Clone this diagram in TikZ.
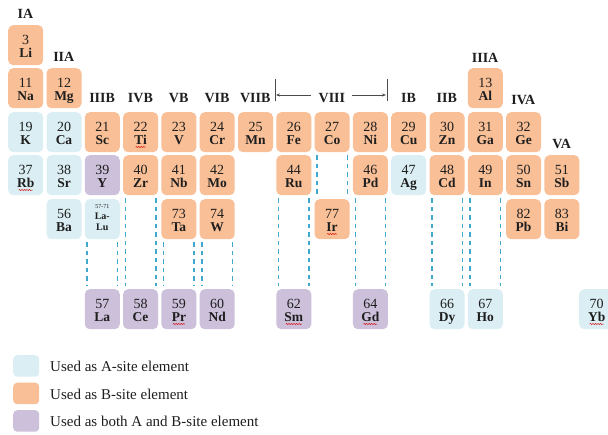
\documentclass[tikz,border=0pt]{standalone}
\usepackage{fontspec}
\setmainfont{Liberation Serif}
\usetikzlibrary{arrows.meta,decorations.pathmorphing}

\definecolor{siteA}{HTML}{DAEEF3}
\definecolor{siteB}{HTML}{F9BF96}
\definecolor{siteAB}{HTML}{CCC0DA}
\definecolor{guide}{HTML}{3FA8CC}
\definecolor{ink}{HTML}{1E1E1E}

\tikzset{
  cell/.style={anchor=north west, minimum width=35pt, minimum height=40pt,
    inner sep=0pt, rounded corners=5pt, draw=none},
  asA/.style={fill=siteA},
  asB/.style={fill=siteB},
  asAB/.style={fill=siteAB},
  numtxt/.style={anchor=base, inner sep=0pt, text=ink,
    font=\fontsize{14}{14}\selectfont},
  symtxt/.style={anchor=base, inner sep=0pt, text=ink,
    font=\fontsize{13.5}{13.5}\selectfont\bfseries},
  hdr/.style={anchor=base, inner sep=0pt, text=ink,
    font=\fontsize{14}{14}\selectfont\bfseries},
  guideline/.style={draw=guide, line width=1.4pt, dash pattern=on 4.5pt off 4pt},
  squiggle/.style={draw=red!85!black, line width=0.5pt,
    decorate, decoration={snake, amplitude=0.5pt, segment length=2.5pt}},
  bracket/.style={draw=ink!80, line width=0.6pt},
  legbox/.style={anchor=north west, minimum width=26pt, minimum height=21.5pt,
    inner sep=0pt, rounded corners=4pt, draw=none},
  legtxt/.style={anchor=base west, inner sep=0pt, text=ink,
    font=\fontsize{15}{15}\selectfont},
}

% element box: name, left x, top y, atomic number, symbol, colour style
\newcommand\elem[6]{%
  \node[cell,#6] (#1) at (#2,#3) {};
  \node[numtxt] at ([yshift=-19.5pt]#1.north) {#4};
  \node[symtxt] at ([yshift=-32pt]#1.north) {#5};
}
% spell-check underline below a symbol
\newcommand\squig[2]{%
  \draw[squiggle] ([xshift=-#2pt,yshift=-35pt]#1.north) -- ([xshift=#2pt,yshift=-35pt]#1.north);
}
% dashed guide pair between two boxes of the same column
\newcommand\guides[2]{%
  \draw[guideline] ([xshift=2.5pt,yshift=-3pt]#1.south west) -- ([xshift=2.5pt,yshift=3pt]#2.north west);
  \draw[guideline] ([xshift=-2.5pt,yshift=-3pt]#1.south east) -- ([xshift=-2.5pt,yshift=3pt]#2.north east);
}

\begin{document}
\begin{tikzpicture}[x=1pt,y=-1pt]
\useasboundingbox (0,0) rectangle (608,434);

% group headings
\node[hdr] (gIA)   at (25.5,18)  {IA};
\node[hdr] (gIIA)  at (63.8,61)  {IIA};
\node[hdr] (gIIIB) at (102.1,102) {IIIB};
\node[hdr] (gIVB)  at (140.4,102) {IVB};
\node[hdr] (gVB)   at (178.7,102) {VB};
\node[hdr] (gVIB)  at (217,102)   {VIB};
\node[hdr] (gVIIB) at (255.3,102) {VIIB};
\node[hdr] (gVIII) at (331.9,102) {VIII};
\node[hdr] (gIB)   at (408.5,102) {IB};
\node[hdr] (gIIB)  at (446.8,102) {IIB};
\node[hdr] (gIIIA) at (485.1,62)  {IIIA};
\node[hdr] (gIVA)  at (523.4,104) {IVA};
\node[hdr] (gVA)   at (561.7,148) {VA};

% bracket spanning group VIII
\coordinate (barLt) at (275,79);
\coordinate (barLb) at (275,101);
\coordinate (barRt) at (387,79);
\coordinate (barRb) at (387,101);
\coordinate (arrL) at (276,95);
\coordinate (arrR) at (386,95);
\coordinate (arrLs) at (311,95);
\coordinate (arrRs) at (352,95);
\draw[bracket] (barLt) -- (barLb);
\draw[bracket] (barRt) -- (barRb);
\draw[bracket,-{Stealth[length=4pt,width=3pt]}] (arrLs) -- (arrL);
\draw[bracket,-{Stealth[length=4pt,width=3pt]}] (arrRs) -- (arrR);

% period 2
\elem{Li}{8}{25}{3}{Li}{asB}
% period 3
\elem{Na}{8}{68}{11}{Na}{asB}
\elem{Mg}{46.3}{68}{12}{Mg}{asB}
\elem{Al}{467.6}{68}{13}{Al}{asB}
% period 4
\elem{K}{8}{112}{19}{K}{asA}
\elem{Ca}{46.3}{112}{20}{Ca}{asA}
\elem{Sc}{84.6}{112}{21}{Sc}{asB}
\elem{Ti}{122.9}{112}{22}{Ti}{asB}
\elem{V}{161.2}{112}{23}{V}{asB}
\elem{Cr}{199.5}{112}{24}{Cr}{asB}
\elem{Mn}{237.8}{112}{25}{Mn}{asB}
\elem{Fe}{276.1}{112}{26}{Fe}{asB}
\elem{Co}{314.4}{112}{27}{Co}{asB}
\elem{Ni}{352.7}{112}{28}{Ni}{asB}
\elem{Cu}{391}{112}{29}{Cu}{asB}
\elem{Zn}{429.3}{112}{30}{Zn}{asB}
\elem{Ga}{467.6}{112}{31}{Ga}{asB}
\elem{Ge}{505.9}{112}{32}{Ge}{asB}
% period 5
\elem{Rb}{8}{155}{37}{Rb}{asA}
\elem{Sr}{46.3}{155}{38}{Sr}{asA}
\elem{Y}{84.6}{155}{39}{Y}{asAB}
\elem{Zr}{122.9}{155}{40}{Zr}{asB}
\elem{Nb}{161.2}{155}{41}{Nb}{asB}
\elem{Mo}{199.5}{155}{42}{Mo}{asB}
\elem{Ru}{276.1}{155}{44}{Ru}{asB}
\elem{Pd}{352.7}{155}{46}{Pd}{asB}
\elem{Ag}{391}{155}{47}{Ag}{asA}
\elem{Cd}{429.3}{155}{48}{Cd}{asB}
\elem{In}{467.6}{155}{49}{In}{asB}
\elem{Sn}{505.9}{155}{50}{Sn}{asB}
\elem{Sb}{544.2}{155}{51}{Sb}{asB}
% period 6
\elem{Ba}{46.3}{199}{56}{Ba}{asA}
\node[cell,asA] (LaLu) at (84.6,199) {};
\node[anchor=base, inner sep=0pt, text=ink, font=\fontsize{6}{6}\selectfont]
  at ([yshift=-9pt]LaLu.north) {57-71};
\node[anchor=base, inner sep=0pt, text=ink, font=\fontsize{10}{10}\selectfont\bfseries]
  at ([yshift=-20.5pt]LaLu.north) {La-};
\node[anchor=base, inner sep=0pt, text=ink, font=\fontsize{10}{10}\selectfont\bfseries]
  at ([yshift=-31pt]LaLu.north) {Lu};
\elem{Ta}{161.2}{199}{73}{Ta}{asB}
\elem{W}{199.5}{199}{74}{W}{asB}
\elem{Ir}{314.4}{199}{77}{Ir}{asB}
\elem{Pb}{505.9}{199}{82}{Pb}{asB}
\elem{Bi}{544.2}{199}{83}{Bi}{asB}
% lanthanides
\elem{La}{84.6}{289}{57}{La}{asAB}
\elem{Ce}{122.9}{289}{58}{Ce}{asAB}
\elem{Pr}{161.2}{289}{59}{Pr}{asAB}
\elem{Nd}{199.5}{289}{60}{Nd}{asAB}
\elem{Sm}{276.1}{289}{62}{Sm}{asAB}
\elem{Gd}{352.7}{289}{64}{Gd}{asAB}
\elem{Dy}{429.3}{289}{66}{Dy}{asA}
\elem{Ho}{467.6}{289}{67}{Ho}{asA}
\elem{Yb}{579}{289}{70}{Yb}{asA}

% spell-check marks
\squig{Rb}{7}
\squig{Ti}{5}
\squig{Ir}{5}
\squig{Pr}{6}
\squig{Sm}{8}
\squig{Gd}{7}
\squig{Yb}{7}

% dashed guides down to the lanthanide row
\guides{LaLu}{La}
\guides{Zr}{Ce}
\guides{Ta}{Pr}
\guides{W}{Nd}
\guides{Ru}{Sm}
\guides{Co}{Ir}
\guides{Pd}{Gd}
\guides{Cd}{Dy}
\guides{In}{Ho}

% legend
\node[legbox,fill=siteA]  (kA)  at (13,355) {};
\node[legbox,fill=siteB]  (kB)  at (13,382.5) {};
\node[legbox,fill=siteAB] (kAB) at (13,410) {};
\node[legtxt] (tA)  at (50,371) {Used as A-site element};
\node[legtxt] (tB)  at (50,399) {Used as B-site element};
\node[legtxt] (tAB) at (50,426) {Used as both A and B-site element};
\end{tikzpicture}
\end{document}
